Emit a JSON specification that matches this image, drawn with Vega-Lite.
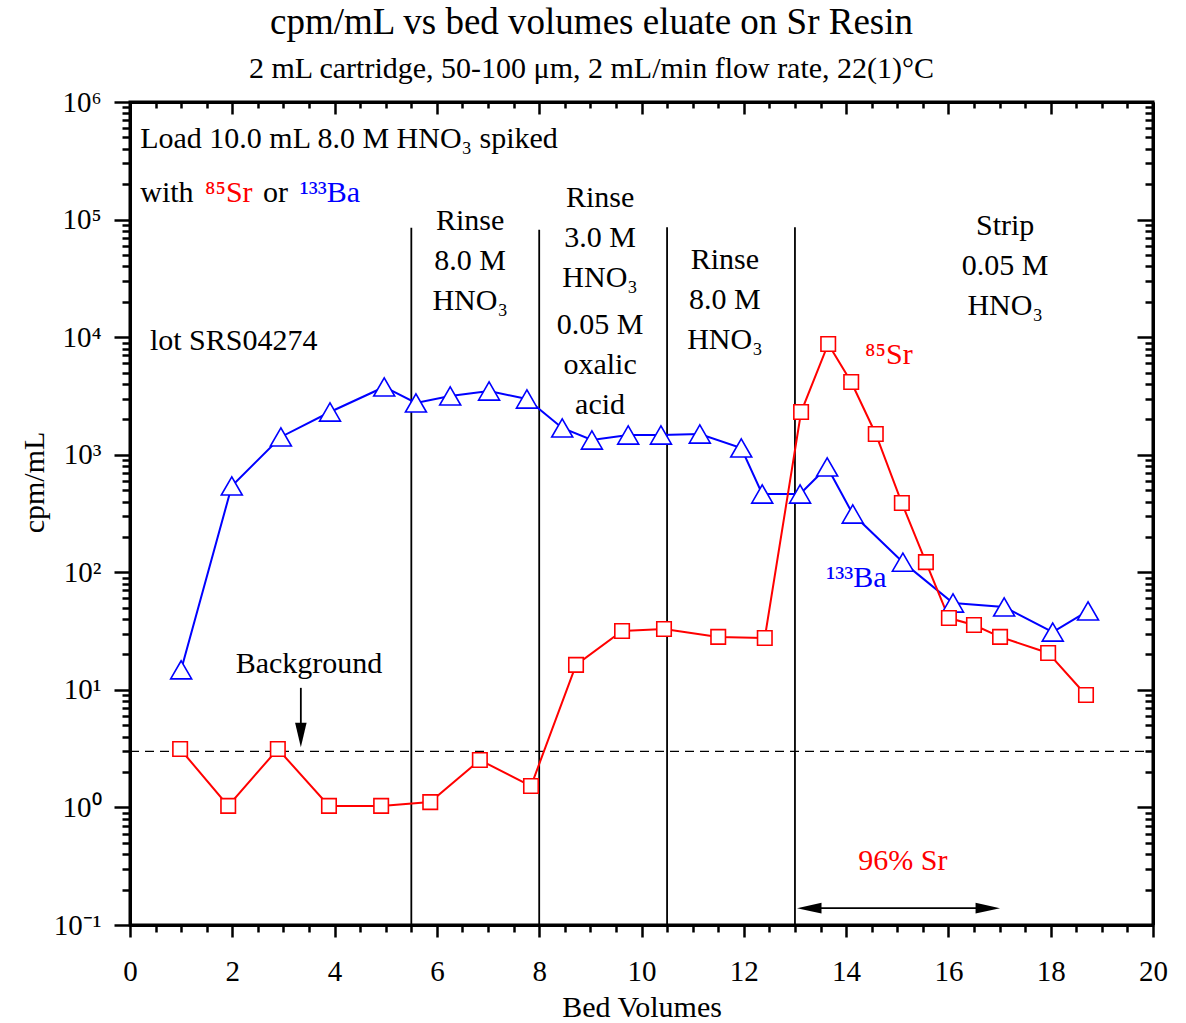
{
  "$schema": "https://vega.github.io/schema/vega-lite/v6.json",
  "width": 1023,
  "height": 823,
  "autosize": "none",
  "padding": {"left": 130, "top": 102, "right": 33, "bottom": 98},
  "background": "white",
  "title": {
    "text": "cpm/mL vs bed volumes eluate on Sr Resin",
    "subtitle": "2 mL cartridge, 50-100 μm, 2 mL/min flow rate, 22(1)°C",
    "font": "Liberation Serif",
    "fontSize": 37,
    "fontWeight": "normal",
    "color": "black",
    "subtitleFont": "Liberation Serif",
    "subtitleFontSize": 30,
    "subtitleColor": "black",
    "subtitlePadding": 12,
    "anchor": "middle",
    "dx": -50,
    "offset": 3
  },
  "config": {
    "view": {"stroke": "black", "strokeWidth": 3},
    "axis": {"grid": false, "domainColor": "black", "tickColor": "black", "labelColor": "black", "titleColor": "black", "domainWidth": 3, "tickWidth": 2.5}
  },
  "datasets": {
    "ba": [
      {"bv": 1.0, "cpm": 14.8}, {"bv": 1.99, "cpm": 542}, {"bv": 2.95, "cpm": 1416}, {"bv": 3.91, "cpm": 2308},
      {"bv": 4.97, "cpm": 3768}, {"bv": 5.59, "cpm": 2754}, {"bv": 6.26, "cpm": 3159}, {"bv": 7.02, "cpm": 3483},
      {"bv": 7.76, "cpm": 2978}, {"bv": 8.45, "cpm": 1688}, {"bv": 9.03, "cpm": 1334}, {"bv": 9.74, "cpm": 1471},
      {"bv": 10.38, "cpm": 1471}, {"bv": 11.14, "cpm": 1500}, {"bv": 11.95, "cpm": 1141}, {"bv": 12.36, "cpm": 463},
      {"bv": 13.1, "cpm": 463}, {"bv": 13.63, "cpm": 787}, {"bv": 14.13, "cpm": 313}, {"bv": 15.11, "cpm": 122},
      {"bv": 16.09, "cpm": 54.8}, {"bv": 17.09, "cpm": 50.7}, {"bv": 18.04, "cpm": 31}, {"bv": 18.73, "cpm": 46.9}
    ],
    "sr": [
      {"bv": 0.98, "cpm": 3.14}, {"bv": 1.92, "cpm": 1.03}, {"bv": 2.89, "cpm": 3.14}, {"bv": 3.89, "cpm": 1.03},
      {"bv": 4.91, "cpm": 1.03}, {"bv": 5.87, "cpm": 1.11}, {"bv": 6.84, "cpm": 2.53}, {"bv": 7.84, "cpm": 1.52},
      {"bv": 8.72, "cpm": 16.3}, {"bv": 9.62, "cpm": 31.7}, {"bv": 10.44, "cpm": 32.9}, {"bv": 11.5, "cpm": 28.2},
      {"bv": 12.41, "cpm": 27.6}, {"bv": 13.12, "cpm": 2308}, {"bv": 13.65, "cpm": 8746}, {"bv": 14.1, "cpm": 4150},
      {"bv": 14.58, "cpm": 1500}, {"bv": 15.09, "cpm": 388}, {"bv": 15.56, "cpm": 122}, {"bv": 16.01, "cpm": 40.8},
      {"bv": 16.5, "cpm": 35.6}, {"bv": 17.01, "cpm": 28.2}, {"bv": 17.95, "cpm": 20.6}, {"bv": 18.69, "cpm": 9.04}
    ],
    "steps": [
      {"bv": 5.5, "top": 85000, "bottom": 0.1},
      {"bv": 8.0, "top": 82000, "bottom": 0.1},
      {"bv": 10.5, "top": 86000, "bottom": 0.1},
      {"bv": 13.0, "top": 86000, "bottom": 0.1}
    ],
    "background": [{"from": 0, "to": 20, "level": 3}],
    "shafts": [
      {"x1": 3.34, "x2": 3.34, "y1": 10.4, "y2": 5.0},
      {"x1": 13.25, "x2": 16.8, "y1": 0.139, "y2": 0.139}
    ],
    "heads": [
      {"bv": 3.34, "cpm": 4.13, "dir": "down"},
      {"bv": 13.28, "cpm": 0.139, "dir": "left"},
      {"bv": 16.77, "cpm": 0.139, "dir": "right"}
    ],
    "notes_left": [
      {"bv": 0.2, "cpm": 484000, "label": "Load 10.0 mL 8.0 M HNO₃ spiked", "kind": "note"},
      {"bv": 0.2, "cpm": 168300, "label": "with", "kind": "note"},
      {"bv": 1.466, "cpm": 168300, "label": "⁸⁵Sr", "kind": "Sr"},
      {"bv": 2.6, "cpm": 168300, "label": "or", "kind": "note"},
      {"bv": 3.32, "cpm": 168300, "label": "¹³³Ba", "kind": "Ba"},
      {"bv": 0.39, "cpm": 9270, "label": "lot SRS04274", "kind": "note"},
      {"bv": 14.37, "cpm": 7050, "label": "⁸⁵Sr", "kind": "Sr"},
      {"bv": 13.61, "cpm": 89.4, "label": "¹³³Ba", "kind": "Ba"}
    ],
    "notes_center": [
      {"bv": 3.5, "cpm": 13.9, "label": "Background", "kind": "note"},
      {"bv": 15.11, "cpm": 0.294, "label": "96% Sr", "kind": "Sr"}
    ],
    "steps_text": [
      {"bv": 6.65, "cpm": 81500, "label": "Rinse\n8.0 M\nHNO₃"},
      {"bv": 9.19, "cpm": 127900, "label": "Rinse\n3.0 M\nHNO₃"},
      {"bv": 9.19, "cpm": 10640, "label": "0.05 M\noxalic\nacid"},
      {"bv": 11.63, "cpm": 38000, "label": "Rinse\n8.0 M\nHNO₃"},
      {"bv": 17.11, "cpm": 73960, "label": "Strip\n0.05 M\nHNO₃"}
    ]
  },
  "layer": [
    {
      "data": {"name": "steps"},
      "mark": {"type": "rule", "color": "black", "strokeWidth": 1.8},
      "encoding": {
        "x": {
          "field": "bv", "type": "quantitative",
          "scale": {"domain": [0, 20], "nice": false, "zero": false},
          "axis": {
            "orient": "bottom", "values": [0, 2, 4, 6, 8, 10, 12, 14, 16, 18, 20], "format": "d",
            "tickSize": 12, "labelFont": "Liberation Serif", "labelFontSize": 29, "labelPadding": 20,
            "labelFlush": false, "labelOverlap": false,
            "title": "Bed Volumes", "titleFont": "Liberation Serif", "titleFontSize": 30, "titleFontWeight": "normal", "titlePadding": 6
          }
        },
        "y": {
          "field": "top", "type": "quantitative",
          "scale": {"type": "log", "domain": [0.1, 1000000], "nice": false},
          "axis": {
            "orient": "left", "values": [0.1, 1, 10, 100, 1000, 10000, 100000, 1000000],
            "labelExpr": "'10' + ['⁻¹','⁰','¹','²','³','⁴','⁵','⁶'][round(log(datum.value)/LN10) + 1]",
            "tickSize": 16, "labelFont": "Liberation Serif", "labelFontSize": 29, "labelPadding": 13,
            "labelFlush": false, "labelOverlap": false,
            "title": "cpm/mL", "titleFont": "Liberation Serif", "titleFontSize": 30, "titleFontWeight": "normal", "titlePadding": 4,
            "titleY": 380
          }
        },
        "y2": {"field": "bottom"}
      }
    },
    {
      "data": {"name": "background"},
      "mark": {"type": "rule", "color": "black", "strokeWidth": 1.4, "strokeDash": [9, 6]},
      "encoding": {
        "x": {
          "field": "from", "type": "quantitative",
          "axis": {
            "orient": "bottom", "values": [0.5, 1, 1.5, 2.5, 3, 3.5, 4.5, 5, 5.5, 6.5, 7, 7.5, 8.5, 9, 9.5, 10.5, 11, 11.5, 12.5, 13, 13.5, 14.5, 15, 15.5, 16.5, 17, 17.5, 18.5, 19, 19.5],
            "tickSize": 7, "labels": false, "domain": false, "title": null
          }
        },
        "x2": {"field": "to"},
        "y": {
          "field": "level", "type": "quantitative",
          "axis": {
            "orient": "left", "values": [0.2, 0.3, 0.4, 0.5, 0.6, 0.7, 0.8, 0.9, 2, 3, 4, 5, 6, 7, 8, 9, 20, 30, 40, 50, 60, 70, 80, 90, 200, 300, 400, 500, 600, 700, 800, 900, 2000, 3000, 4000, 5000, 6000, 7000, 8000, 9000, 20000, 30000, 40000, 50000, 60000, 70000, 80000, 90000, 200000, 300000, 400000, 500000, 600000, 700000, 800000, 900000],
            "tickSize": 8, "labels": false, "domain": false, "title": null
          }
        }
      }
    },
    {
      "data": {"name": "ba"},
      "mark": {"type": "line", "color": "#0000FF", "strokeWidth": 2},
      "encoding": {
        "x": {
          "field": "bv", "type": "quantitative",
          "axis": {"orient": "top", "values": [0, 2, 4, 6, 8, 10, 12, 14, 16, 18, 20], "tickSize": -12, "labels": false, "title": null}
        },
        "y": {
          "field": "cpm", "type": "quantitative",
          "axis": {"orient": "right", "values": [0.1, 1, 10, 100, 1000, 10000, 100000, 1000000], "tickSize": -16, "labels": false, "title": null}
        }
      }
    },
    {
      "data": {"name": "sr"},
      "mark": {"type": "line", "color": "#FF0000", "strokeWidth": 2},
      "encoding": {
        "x": {
          "field": "bv", "type": "quantitative",
          "axis": {
            "orient": "top", "values": [0.5, 1, 1.5, 2.5, 3, 3.5, 4.5, 5, 5.5, 6.5, 7, 7.5, 8.5, 9, 9.5, 10.5, 11, 11.5, 12.5, 13, 13.5, 14.5, 15, 15.5, 16.5, 17, 17.5, 18.5, 19, 19.5],
            "tickSize": -6, "labels": false, "domain": false, "title": null
          }
        },
        "y": {
          "field": "cpm", "type": "quantitative",
          "axis": {
            "orient": "right", "values": [0.2, 0.3, 0.4, 0.5, 0.6, 0.7, 0.8, 0.9, 2, 3, 4, 5, 6, 7, 8, 9, 20, 30, 40, 50, 60, 70, 80, 90, 200, 300, 400, 500, 600, 700, 800, 900, 2000, 3000, 4000, 5000, 6000, 7000, 8000, 9000, 20000, 30000, 40000, 50000, 60000, 70000, 80000, 90000, 200000, 300000, 400000, 500000, 600000, 700000, 800000, 900000],
            "tickSize": -8, "labels": false, "domain": false, "title": null
          }
        }
      }
    },
    {
      "data": {"name": "ba"},
      "mark": {"type": "point", "shape": "triangle-up", "size": 440, "filled": false, "fill": "white", "fillOpacity": 1, "stroke": "#0000FF", "strokeWidth": 1.6, "opacity": 1},
      "encoding": {
        "x": {"field": "bv", "type": "quantitative", "axis": null},
        "y": {"field": "cpm", "type": "quantitative", "axis": null}
      }
    },
    {
      "data": {"name": "sr"},
      "mark": {"type": "point", "shape": "square", "size": 210, "filled": false, "fill": "white", "fillOpacity": 1, "stroke": "#FF0000", "strokeWidth": 1.6, "opacity": 1},
      "encoding": {
        "x": {"field": "bv", "type": "quantitative", "axis": null},
        "y": {"field": "cpm", "type": "quantitative", "axis": null}
      }
    },
    {
      "data": {"name": "shafts"},
      "mark": {"type": "rule", "color": "black", "strokeWidth": 1.8},
      "encoding": {
        "x": {"field": "x1", "type": "quantitative", "axis": null},
        "x2": {"field": "x2"},
        "y": {"field": "y1", "type": "quantitative", "axis": null},
        "y2": {"field": "y2"}
      }
    },
    {
      "data": {"name": "heads"},
      "mark": {"type": "point", "filled": true, "color": "black", "size": 600, "strokeWidth": 0, "opacity": 1},
      "encoding": {
        "x": {"field": "bv", "type": "quantitative", "axis": null},
        "y": {"field": "cpm", "type": "quantitative", "axis": null},
        "shape": {
          "field": "dir", "type": "nominal", "legend": null,
          "scale": {"domain": ["down", "left", "right"], "range": ["M-0.47,-1L0.47,-1L0,1Z", "M-1,0L1,-0.44L1,0.44Z", "M1,0L-1,-0.44L-1,0.44Z"]}
        }
      }
    },
    {
      "data": {"name": "notes_left"},
      "mark": {"type": "text", "align": "left", "baseline": "middle", "font": "Liberation Serif", "fontSize": 30},
      "encoding": {
        "x": {"field": "bv", "type": "quantitative", "axis": null},
        "y": {"field": "cpm", "type": "quantitative", "axis": null},
        "text": {"field": "label"},
        "color": {"field": "kind", "type": "nominal", "legend": null, "scale": {"domain": ["note", "Sr", "Ba"], "range": ["black", "#FF0000", "#0000FF"]}}
      }
    },
    {
      "data": {"name": "notes_center"},
      "mark": {"type": "text", "align": "center", "baseline": "alphabetic", "font": "Liberation Serif", "fontSize": 30},
      "encoding": {
        "x": {"field": "bv", "type": "quantitative", "axis": null},
        "y": {"field": "cpm", "type": "quantitative", "axis": null},
        "text": {"field": "label"},
        "color": {"field": "kind", "type": "nominal", "legend": null, "scale": {"domain": ["note", "Sr", "Ba"], "range": ["black", "#FF0000", "#0000FF"]}}
      }
    },
    {
      "data": {"name": "steps_text"},
      "mark": {"type": "text", "align": "center", "baseline": "alphabetic", "font": "Liberation Serif", "fontSize": 30, "lineBreak": "\n", "lineHeight": 40, "color": "black"},
      "encoding": {
        "x": {"field": "bv", "type": "quantitative", "axis": null},
        "y": {"field": "cpm", "type": "quantitative", "axis": null},
        "text": {"field": "label"}
      }
    }
  ],
  "resolve": {"axis": {"x": "independent", "y": "independent"}, "scale": {"color": "shared"}}
}
